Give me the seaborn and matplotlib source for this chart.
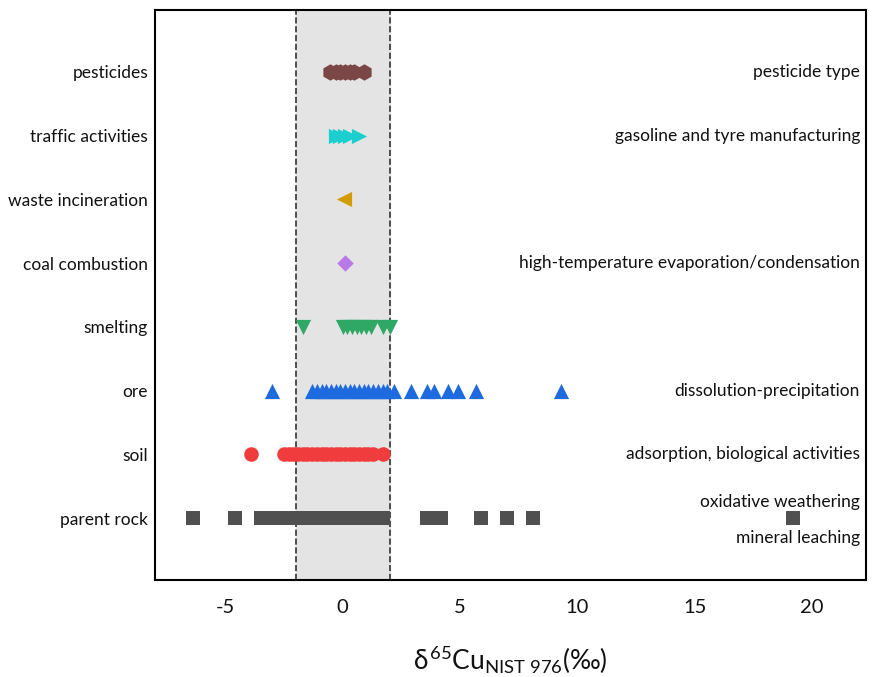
import numpy as np
import pandas as pd
import seaborn as sns
import matplotlib.pyplot as plt

# Categories from bottom to top
categories = ["parent rock", "soil", "ore", "smelting", "coal combustion",
              "waste incineration", "traffic activities", "pesticides"]

# delta65Cu values
parent_rock = [-6.4, -4.6, -3.5, -3.2, -2.9, -2.6, -2.3, -2.0, -1.7, -1.4, -1.1, -0.8,
               -0.5, -0.2, 0.1, 0.4, 0.7, 1.0, 1.3, 1.7, 3.6, 4.2, 5.9, 7.0, 8.1, 19.2]
soil = [-3.9, -2.5, -2.3, -2.1, -1.9, -1.7, -1.5, -1.3, -1.1, -0.9, -0.7, -0.5, -0.3,
        -0.1, 0.1, 0.3, 0.5, 0.7, 0.9, 1.1, 1.3, 1.7]
ore = [-3.0, -1.3, -1.1, -0.9, -0.7, -0.5, -0.3, -0.1, 0.1, 0.3, 0.5, 0.7, 0.9, 1.1,
       1.3, 1.5, 1.7, 1.9, 2.2, 2.9, 3.6, 3.9, 4.5, 4.9, 5.7, 9.3]
smelting = [-1.7, 0.0, 0.2, 0.4, 0.6, 0.8, 1.0, 1.2, 1.7, 2.0]
coal_combustion = [0.1]
waste_incineration = [0.05]
traffic_activities = [-0.3, -0.1, 0.1, 0.3, 0.7]
pesticides = [-0.55, -0.3, -0.1, 0.1, 0.3, 0.5, 0.9]

processes = ["pesticide type", "gasoline and tyre manufacturing",
             "high-temperature evaporation/condensation", "dissolution-precipitation",
             "adsorption, biological activities", "oxidative weathering", "mineral leaching"]

values = [parent_rock, soil, ore, smelting, coal_combustion,
          waste_incineration, traffic_activities, pesticides]

rows = []
for i, (cat, vals) in enumerate(zip(categories, values)):
    for v in vals:
        rows.append({"source": cat, "pos": i + 1, "d65Cu": v})
df = pd.DataFrame(rows)

colors = {"parent rock": "#505050", "soil": "#f03c3c", "ore": "#1e6be0",
          "smelting": "#2fa866", "coal combustion": "#b87ae6",
          "waste incineration": "#d49c00", "traffic activities": "#1ccfcf",
          "pesticides": "#7a4646"}
markers = {"parent rock": "s", "soil": "o", "ore": "^", "smelting": "v",
           "coal combustion": "D", "waste incineration": "<",
           "traffic activities": ">", "pesticides": "h"}

sns.set_theme(style="white")
plt.rcParams['font.family'] = ['Lato', 'DejaVu Sans']
plt.rcParams['mathtext.fontset'] = 'custom'
plt.rcParams['mathtext.rm'] = 'Lato'
plt.rcParams['mathtext.it'] = 'Lato'

fig = plt.figure(figsize=(8.74, 6.77), dpi=100)
ax = fig.add_axes([0.1773, 0.1433, 0.8135, 0.8419])

ax.axvspan(-2, 2, color="#e4e4e4", zorder=0)
ax.axvline(-2, color="#333333", linestyle="--", linewidth=1.2, zorder=1)
ax.axvline(2, color="#333333", linestyle="--", linewidth=1.2, zorder=1)

sizes = {"parent rock": 90, "soil": 110, "ore": 120, "smelting": 120,
         "coal combustion": 70, "waste incineration": 120,
         "traffic activities": 120, "pesticides": 140}
for cat in categories:
    sub = df[df["source"] == cat]
    sns.scatterplot(data=sub, x="d65Cu", y="pos", color=colors[cat],
                    marker=markers[cat], s=sizes[cat], linewidth=0,
                    ax=ax, zorder=3, legend=False)

ax.set_xlim(-8, 22.3)
ax.set_ylim(0.03, 8.97)
ax.set_xticks([-5, 0, 5, 10, 15, 20])
ax.set_xticklabels(["-5", "0", "5", "10", "15", "20"], fontsize=14.5, color="#111111")
ax.set_yticks(range(1, len(categories) + 1))
ax.set_yticklabels(categories, fontsize=12.5, color="#111111")
ax.tick_params(axis="y", length=0, pad=5)
ax.tick_params(axis="x", length=0, pad=14)
for sp in ax.spines.values():
    sp.set_visible(True)
    sp.set_color("black")
    sp.set_linewidth(1.5)

ax.set_xlabel(r"$\delta^{65}$Cu$_{\mathrm{NIST\ 976}}$(‰)", fontsize=19, labelpad=20,
              color="#111111")
ax.set_ylabel("")

# process annotations on the right
text_pos = [8, 7, 5, 3, 2, 1.25, 0.69]
for t, y in zip(processes, text_pos):
    ax.text(22.05, y, t, ha="right", va="center", fontsize=12.5, color="#111111")

fig.savefig("out.png", dpi=100)
